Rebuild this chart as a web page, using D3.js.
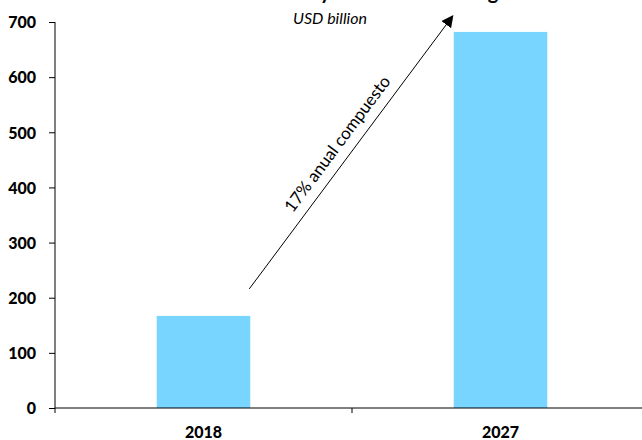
<!DOCTYPE html>
<html><head><meta charset="utf-8">
<script src="https://cdn.jsdelivr.net/npm/d3@7"></script>
<style>
body{margin:0;background:#fff;}
svg text{font-family:Lato,"Open Sans",sans-serif;}
</style></head>
<body><svg id="c" width="642" height="440"></svg>
<script>
const categories = ["2018", "2027"];
const values = [167, 682];
const yTicks = [0, 100, 200, 300, 400, 500, 600, 700];
const titleText = "Market size by 2027 and its rising trend";
const subtitleText = "USD billion";
const arrowLabel = "17% anual compuesto";

(function(){
const svg = d3.select("#c");
const pL = 55, pR = 649, pT = 22, pB = 408;

const x = d3.scaleBand().domain(categories).range([pL, pR]).padding(0);
const y = d3.scaleLinear().domain([0, 700]).range([pB, pT]);

// bars
const bw = x.bandwidth() * 0.315;
svg.selectAll("rect.bar").data(categories).enter().append("rect")
  .attr("class", "bar")
  .attr("x", d => x(d) + x.bandwidth() / 2 - bw / 2)
  .attr("width", bw)
  .attr("y", (d, i) => y(values[i]))
  .attr("height", (d, i) => y(0) - y(values[i]))
  .attr("fill", "#78d5ff");

// y axis
const yAxis = svg.append("g").attr("transform", `translate(${pL},0)`)
  .call(d3.axisLeft(y).tickValues(yTicks).tickSize(6).tickPadding(13).tickFormat(d3.format("d")));
yAxis.select(".domain").attr("d", `M0,${pT}V${pB + 5}`).attr("stroke", "#000");
yAxis.selectAll("line").attr("stroke", "#000");
yAxis.selectAll("text").attr("font-size", 16).attr("font-weight", "900").attr("fill", "#000").attr("dy", "0.36em");

// x axis
const xAxis = svg.append("g").attr("transform", `translate(0,${pB})`)
  .call(d3.axisBottom(x).tickSize(0).tickPadding(19));
xAxis.select(".domain").attr("d", `M${pL},0H${642}`).attr("stroke", "#000");
xAxis.selectAll("text").attr("font-size", 16).attr("font-weight", "900").attr("fill", "#000");
xAxis.append("line").attr("x1", x(categories[1])).attr("x2", x(categories[1]))
  .attr("y1", 0).attr("y2", 5).attr("stroke", "#000");

// title (cut off at top, only descenders visible as in the reference)
const tt = svg.append("text").attr("x", 0).attr("y", -1).attr("text-anchor", "start")
  .attr("font-size", 20).attr("font-weight", "bold").attr("fill", "#000").text(titleText);
const yi = titleText.indexOf(" by ") + 2;
const px = tt.node().getStartPositionOfChar(yi).x;
tt.attr("x", 320 - px);

svg.append("text").attr("x", 330).attr("y", 24).attr("text-anchor", "middle")
  .attr("font-size", 16).attr("font-style", "italic").attr("fill", "#000").text(subtitleText);

// arrow
svg.append("defs").append("marker").attr("id", "ah")
  .attr("viewBox", "0 0 10 10").attr("refX", 9).attr("refY", 5)
  .attr("markerWidth", 12).attr("markerHeight", 12).attr("markerUnits", "userSpaceOnUse")
  .attr("orient", "auto")
  .append("path").attr("d", "M0,0L10,5L0,10z").attr("fill", "#000");
const x0 = x(categories[0]) + x.bandwidth() / 2 + bw / 2 - 1, y0 = y(values[0]) - 27;
const x1 = x(categories[1]) + x.bandwidth() / 2 - bw / 2 - 1, y1 = 16;
svg.append("line").attr("x1", x0).attr("y1", y0).attr("x2", x1).attr("y2", y1)
  .attr("stroke", "#000").attr("stroke-width", 1).attr("marker-end", "url(#ah)");
const ang = Math.atan2(y1 - y0, x1 - x0) * 180 / Math.PI;
svg.append("text")
  .attr("transform", `translate(${(x0 + x1) / 2 - 9},${(y0 + y1) / 2 - 5}) rotate(${ang})`)
  .attr("text-anchor", "middle").attr("font-size", 17).attr("fill", "#000").text(arrowLabel);
})();
</script></body></html>
